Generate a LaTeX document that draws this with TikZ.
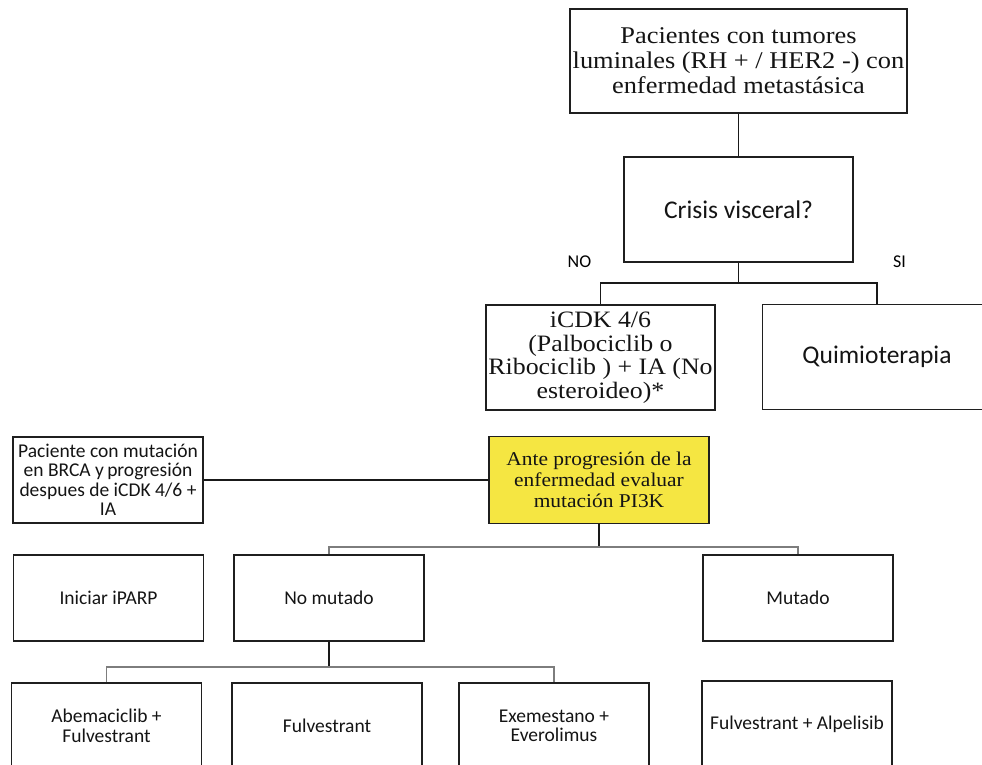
\documentclass[tikz,border=0pt]{standalone}
\usepackage{fontspec}
\newfontfamily\boxserif{Liberation Serif}[FakeStretch=1.1]
\newfontfamily\boxsans{Carlito}
\newcommand{\srf}[2]{\boxserif\fontsize{#1}{#2}\selectfont}
\newcommand{\snf}[2]{\boxsans\fontsize{#1}{#2}\selectfont}
\definecolor{boxyellow}{RGB}{245,230,66}
\definecolor{linegray}{RGB}{125,125,125}

\begin{document}
\begin{tikzpicture}[x=1pt,y=-1pt,
   box/.style={draw=black!88,line width=1.6pt,inner sep=0pt,align=center,text=black!92},
   big/.style={box,minimum width=229pt,minimum height=105pt},
   small/.style={box,minimum width=190pt,minimum height=86pt,font=\snf{19.5}{19.5}},
   link/.style={draw=black!90,line width=1.6pt},
   thin/.style={draw=linegray,line width=1.1pt}]
   \useasboundingbox (0,0) rectangle (982,765);
   \node[box,minimum width=337pt,minimum height=104pt,font=\srf{24}{25}]
        (pac)    at (738.5, 61.0) {Pacientes con tumores\\luminales (RH + / HER2 -) con\\enfermedad metastásica};
   \node[big,font=\snf{25.5}{26}] (crisis) at (738.5,209.5) {Crisis visceral?};
   \node[big,font=\srf{23.5}{23.5}] (icdk) at (600.5,357.5) {iCDK 4/6\\(Palbociclib o\\Ribociclib ) + IA (No\\esteroideo)*};
   \node[big,font=\snf{25.5}{26}] (quimio) at (877.0,357.0) {Quimioterapia};
   \node[small] (brca)   at (108.0,480.0) {Paciente con mutación\\en BRCA y\,progresión\\despues de iCDK 4/6 +\\IA};
   \node[box,fill=boxyellow,minimum width=220pt,minimum height=87pt,font=\srf{19.5}{21}]
        (pi3k)   at (599.0,480.0) {Ante progresión de la\\enfermedad evaluar\\mutación PI3K};
   \node[small] (iparp)  at (108.5,598.0) {Iniciar iPARP};
   \node[small] (nomut)  at (329.0,598.0) {No mutado};
   \node[small] (mut)    at (798.0,598.0) {Mutado};
   \node[small] (abema)  at (106.5,726.0) {Abemaciclib +\\Fulvestrant};
   \node[small] (fulv)   at (327.0,726.0) {Fulvestrant};
   \node[small] (exem)   at (554.0,726.0) {Exemestano +\\Everolimus};
   \node[small] (alpe)   at (797.0,724.0) {Fulvestrant + Alpelisib};
   \node[font=\snf{18}{18}] (no) at (579.5,262.0) {NO};
   \node[font=\snf{18}{18}] (si) at (899.5,262.0) {SI};
   \coordinate (split1) at (738.5,283);
   \coordinate (split2) at (599.0,547);
   \coordinate (split3) at (329.0,667);
   \draw[link] (pac) -- (crisis);
   \draw[link] (crisis) -- (split1);
   \draw[link] (icdk.north) |- (split1) -| (quimio.north);
   \draw[link] (brca) -- (pi3k);
   \draw[link] (pi3k) -- (split2);
   \draw[thin] (nomut.north) |- (split2) -| (mut.north);
   \draw[link] (nomut) -- (split3);
   \draw[thin] (abema.north) |- (split3) -| (exem.north);
\end{tikzpicture}
\end{document}
